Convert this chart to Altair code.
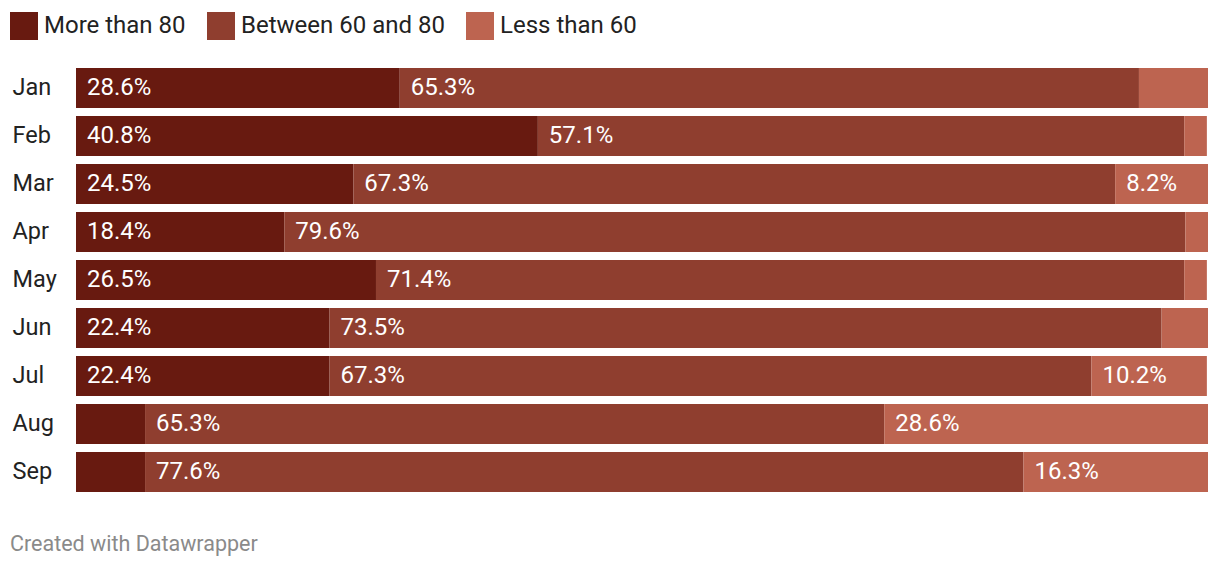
import altair as alt
import pandas as pd

months = ["Jan", "Feb", "Mar", "Apr", "May", "Jun", "Jul", "Aug", "Sep"]
categories = ["More than 80", "Between 60 and 80", "Less than 60"]
more_than_80 = [28.6, 40.8, 24.5, 18.4, 26.5, 22.4, 22.4, 6.1, 6.1]
between_60_80 = [65.3, 57.1, 67.3, 79.6, 71.4, 73.5, 67.3, 65.3, 77.6]
less_than_60 = [6.1, 2.0, 8.2, 2.0, 2.0, 4.1, 10.2, 28.6, 16.3]
colors = ["#681a10", "#8f3e2f", "#bd6450"]

rows = []
for i, m in enumerate(months):
    for j, (cat, vals) in enumerate(zip(categories, [more_than_80, between_60_80, less_than_60])):
        rows.append({"month": m, "category": cat, "order": j, "value": vals[i]})
df = pd.DataFrame(rows)

FONT = "Roboto"

base = alt.Chart(df).transform_stack(
    stack="value", groupby=["month"], as_=["x0", "x1"], sort=[alt.SortField("order", order="ascending")]
)

y_enc = alt.Y(
    "month:N",
    sort=months,
    title=None,
    scale=alt.Scale(paddingInner=0.1667, paddingOuter=0.0833),
    axis=alt.Axis(
        domain=False, ticks=False, grid=False, labelAlign="left", labelPadding=64,
        labelFont=FONT, labelFontSize=23.5, labelColor="#222222", labelBaseline="middle",
    ),
)
x_scale = alt.Scale(domain=[0, 100], nice=False, zero=True)

bars = base.mark_bar(strokeWidth=0).encode(
    y=y_enc,
    x=alt.X("x0:Q", scale=x_scale, axis=None),
    x2="x1:Q",
    color=alt.Color(
        "category:N",
        scale=alt.Scale(domain=categories, range=colors),
        sort=categories,
        legend=alt.Legend(
            title=None, orient="none", direction="horizontal", legendX=-66, legendY=-52,
            symbolType="square", symbolSize=784, symbolStrokeWidth=0, symbolOpacity=1,
            labelFont=FONT, labelFontSize=24, labelColor="#222222", labelOffset=6,
            columnPadding=21, padding=0, labelLimit=400,
        ),
    ),
)

labels = base.transform_filter("datum.value >= 8").transform_calculate(
    lbl="format(datum.value, '.1f') + '%'"
).mark_text(align="left", baseline="middle", dx=11, font=FONT, fontSize=24, color="white").encode(
    y=y_enc,
    x=alt.X("x0:Q", scale=x_scale, axis=None),
    text="lbl:N",
)

footer = alt.Chart(pd.DataFrame({"t": ["Created with Datawrapper"]})).mark_text(
    align="left", baseline="middle", font=FONT, fontSize=21.5, color="#8a8a8a"
).encode(text="t:N", x=alt.value(-66), y=alt.value(481))

chart = alt.layer(bars, labels, footer).properties(
    width=1132, height=432,
    background="white",
    autosize=alt.AutoSizeParams(type="none"),
    padding={"left": 68, "top": 56, "right": 4, "bottom": 70},
).configure_view(stroke=None, strokeWidth=0).configure_axis(grid=False, domain=False)

chart.save("out.html", embed_options={"renderer": "svg", "actions": False})
